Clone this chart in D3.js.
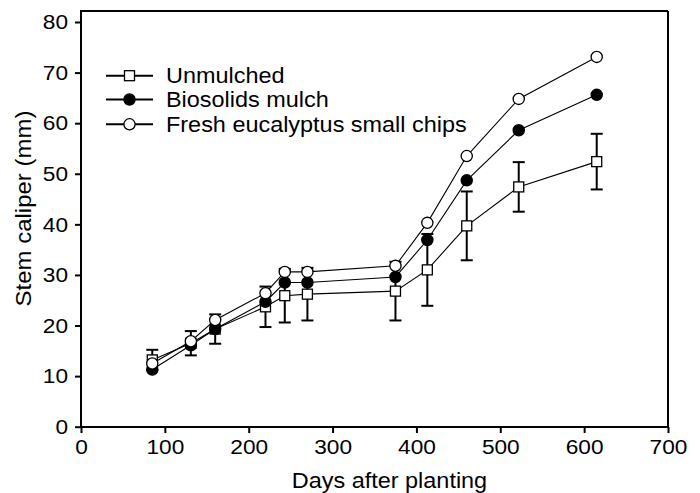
<!DOCTYPE html>
<html>
<head>
<meta charset="utf-8">
<script src="https://cdn.jsdelivr.net/npm/d3@7"></script>
<style>
  html, body { margin: 0; padding: 0; background: #fff; }
  svg { display: block; font-family: "Liberation Sans", Arial, sans-serif; }
</style>
</head>
<body>
<svg id="chart" width="700" height="493"></svg>
<script>
// ---- data ----
const days = [85, 131, 160, 220, 243, 270, 375, 413, 460, 522, 615];
const unmulched = [13.2, 16.5, 19.3, 23.7, 25.9, 26.2, 26.8, 31.0, 39.7, 47.4, 52.4];
const unmulchedErr = [2.0, 2.4, 2.9, 4.0, 5.3, 5.2, 5.8, 7.1, 6.8, 4.9, 5.5];
const biosolids = [11.3, 16.1, 19.3, 24.7, 28.5, 28.5, 29.6, 36.9, 48.7, 58.6, 65.6];
const eucalyptus = [12.5, 16.9, 21.1, 26.4, 30.6, 30.6, 31.8, 40.3, 53.5, 64.8, 73.1];
const seriesNames = ["Unmulched", "Biosolids mulch", "Fresh eucalyptus small chips"];
const xTicks = [0, 100, 200, 300, 400, 500, 600, 700];
const yTicks = [0, 10, 20, 30, 40, 50, 60, 70, 80];

(function () {
// ---- layout ----
const svg = d3.select("#chart");
const pL = 81, pR = 668, pT = 11, pB = 427;
const x = d3.scaleLinear().domain([0, 700]).range([pL, pR]);
const y = d3.scaleLinear().domain([0, 80]).range([426.7, 22]);
const SX = 1.08;

// frame top/right
svg.append("line").attr("x1", pL).attr("x2", pR).attr("y1", pT).attr("y2", pT)
  .attr("stroke", "#000").attr("stroke-width", 2);
svg.append("line").attr("x1", pR).attr("x2", pR).attr("y1", pT).attr("y2", pB)
  .attr("stroke", "#000").attr("stroke-width", 2);

// axes
const xAxis = svg.append("g").attr("transform", `translate(0,${pB})`)
  .call(d3.axisBottom(x).tickValues(xTicks).tickSize(6).tickPadding(6).tickSizeOuter(0));
const yAxis = svg.append("g").attr("transform", `translate(${pL},0)`)
  .call(d3.axisLeft(y).tickValues(yTicks).tickSize(6).tickPadding(7).tickSizeOuter(0));
[xAxis, yAxis].forEach(g => {
  g.select(".domain").remove();
  g.selectAll(".tick line").attr("stroke", "#000").attr("stroke-width", 2);
  g.selectAll(".tick text").attr("fill", "#000").style("font-size", "21px")
    .style("font-family", "Liberation Sans, Arial, sans-serif")
    .attr("transform", `scale(${SX},1)`);
});
yAxis.selectAll(".tick text").attr("x", -13 / SX);
svg.append("line").attr("x1", pL).attr("x2", pR + 1).attr("y1", pB).attr("y2", pB)
  .attr("stroke", "#000").attr("stroke-width", 2);
svg.append("line").attr("x1", pL).attr("x2", pL).attr("y1", pT - 1).attr("y2", pB + 1)
  .attr("stroke", "#000").attr("stroke-width", 2);

// axis titles
svg.append("text").attr("transform", `translate(389.5,488) scale(1.065,1)`).attr("text-anchor", "middle")
  .style("font-size", "22px").text("Days after planting");
svg.append("text").attr("transform", "translate(30.5,208.5) rotate(-90) scale(1.09,1)").attr("text-anchor", "middle")
  .style("font-size", "22px").text("Stem caliper (mm)");

// series
const series = [
  {name: seriesNames[0], vals: unmulched, shape: "square", fill: "#fff"},
  {name: seriesNames[1], vals: biosolids, shape: "circle", fill: "#000"},
  {name: seriesNames[2], vals: eucalyptus, shape: "circle", fill: "#fff"}
];

// error bars (unmulched)
const eb = svg.append("g").attr("stroke", "#000").attr("stroke-width", 2);
days.forEach((d, i) => {
  const lo = unmulched[i] - unmulchedErr[i], hi = unmulched[i] + unmulchedErr[i];
  eb.append("line").attr("x1", x(d)).attr("x2", x(d)).attr("y1", y(lo)).attr("y2", y(hi));
  eb.append("line").attr("x1", x(d) - 6).attr("x2", x(d) + 6).attr("y1", y(lo)).attr("y2", y(lo));
  eb.append("line").attr("x1", x(d) - 6).attr("x2", x(d) + 6).attr("y1", y(hi)).attr("y2", y(hi));
});

const line = d3.line().x((v, i) => x(days[i])).y(v => y(v));
series.forEach(s => {
  svg.append("path").datum(s.vals).attr("d", line).attr("fill", "none")
    .attr("stroke", "#000").attr("stroke-width", 1.1);
});

function drawMarker(g, s, cx, cy) {
  if (s.shape === "square") {
    g.append("rect").attr("x", cx - 5).attr("y", cy - 5).attr("width", 10).attr("height", 10)
      .attr("fill", s.fill).attr("stroke", "#000").attr("stroke-width", 1.3);
  } else {
    g.append("circle").attr("cx", cx).attr("cy", cy).attr("r", 5.6)
      .attr("fill", s.fill).attr("stroke", "#000").attr("stroke-width", 1.3);
  }
}
series.forEach(s => {
  const g = svg.append("g");
  s.vals.forEach((v, i) => drawMarker(g, s, x(days[i]), y(v)));
});

// legend
const legY = [75.7, 99.5, 124.3];
series.forEach((s, i) => {
  const g = svg.append("g");
  g.append("line").attr("x1", 106).attr("x2", 153).attr("y1", legY[i]).attr("y2", legY[i])
    .attr("stroke", "#000").attr("stroke-width", 2);
  drawMarker(g, s, 129.5, legY[i]);
  g.append("text").attr("transform", `translate(166,${legY[i] + 7.5}) scale(1.065,1)`)
    .style("font-size", "22px").text(s.name);
});
})();
</script>
</body>
</html>
